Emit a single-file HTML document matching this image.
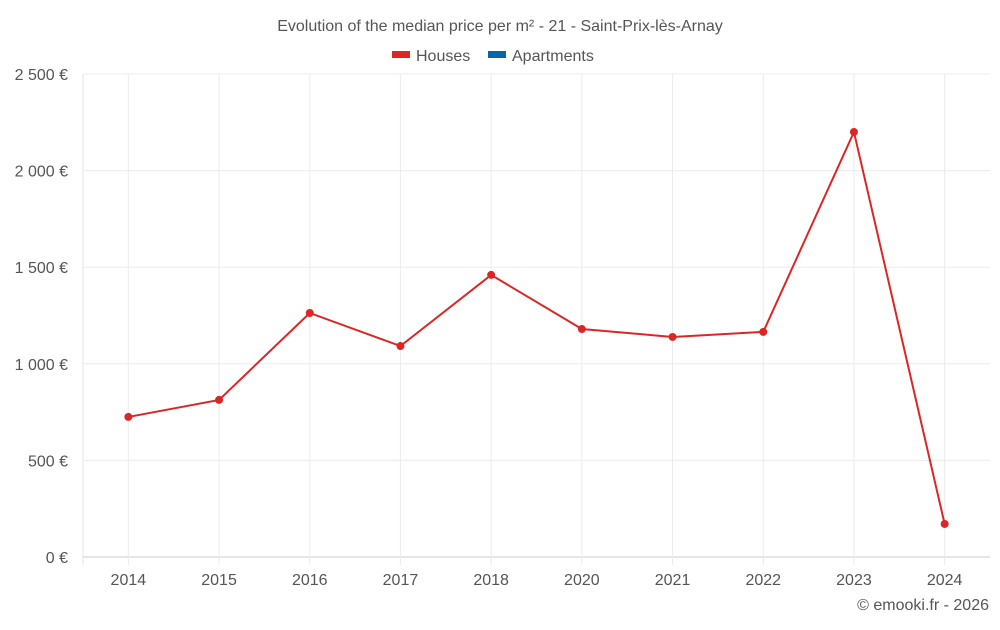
<!DOCTYPE html>
<html><head><meta charset="utf-8"><style>
body{margin:0;background:#fff;font-family:"Liberation Sans",sans-serif}
svg text{font-family:"Liberation Sans",sans-serif}
</style></head><body>
<svg id="chart" width="1000" height="625">
<text x="500" y="31" text-anchor="middle" font-size="16" fill="#555">Evolution of the median price per m² - 21 - Saint-Prix-lès-Arnay</text>
<g>
<rect x="392" y="51" width="18" height="7" fill="#dc2626"/>
<text x="416" y="61" font-size="16" fill="#555">Houses</text>
<rect x="488" y="51" width="18" height="7" fill="#0864a8"/>
<text x="512" y="61" font-size="16" fill="#555">Apartments</text>
</g>
<g id="grid"></g><g id="axes"></g><g id="series"></g>
<text x="989" y="610" text-anchor="end" font-size="16" fill="#555">© emooki.fr - 2026</text>
</svg>
<script>
const categories=["2014","2015","2016","2017","2018","2020","2021","2022","2023","2024"];
const houses=[725,813,1263,1092,1460,1180,1139,1165,2200,171];
const yTicks=[0,500,1000,1500,2000,2500];
const yTickLabels=["0 €","500 €","1 000 €","1 500 €","2 000 €","2 500 €"];
const NS="http://www.w3.org/2000/svg";
const L=83,R=990,T=74,B=557,yMax=2500;
const bw=(R-L)/categories.length;
const x=i=>L+bw*(i+0.5);
const y=v=>B-(v/yMax)*(B-T);
function mk(tag,attrs,parent){const e=document.createElementNS(NS,tag);for(const k in attrs)e.setAttribute(k,attrs[k]);parent.appendChild(e);return e;}
const grid=document.getElementById('grid'),axes=document.getElementById('axes'),series=document.getElementById('series');
const edge=mk('line',{x1:L,x2:L,y1:T,y2:B+8,stroke:'#e6e6e6'},grid);


yTicks.forEach((t,i)=>{
 const ln=mk('line',{x1:L,x2:R,y1:y(t),y2:y(t),stroke:i==0?'#ccc':'#ececec'},grid);
 
 
 const tx=mk('text',{x:68,y:y(t)+6,'text-anchor':'end','font-size':16,fill:'#555'},axes);
 tx.textContent=yTickLabels[i];
 
 
});
categories.forEach((c,i)=>{
 const ln=mk('line',{x1:x(i),x2:x(i),y1:T,y2:B+8,stroke:'#ececec'},grid);
 
 
 const tx=mk('text',{x:x(i),y:585,'text-anchor':'middle','font-size':16,fill:'#555'},axes);
 tx.textContent=c;
 
 
});
const pl=mk('polyline',{points:houses.map((v,i)=>x(i)+','+y(v)).join(' '),fill:'none',stroke:'#dc2626','stroke-width':2},series);


houses.forEach((v,i)=>{
 const c=mk('circle',{cx:x(i),cy:y(v),r:4,fill:'#dc2626'},series);
 
 
});
</script>
</body></html>
